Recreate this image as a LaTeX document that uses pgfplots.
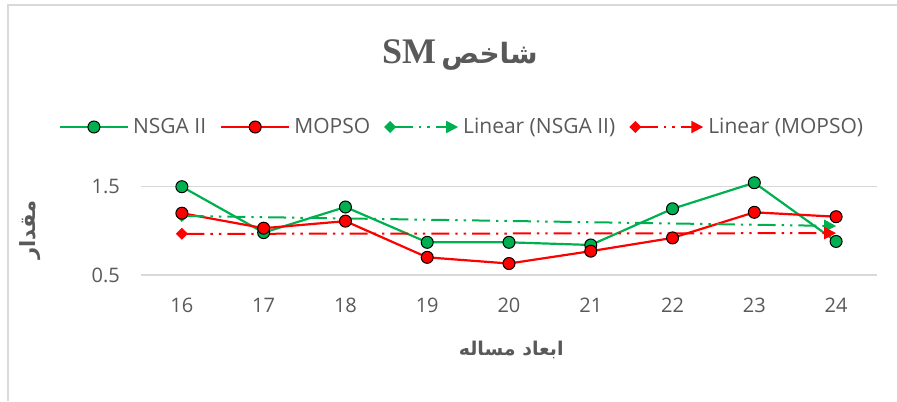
\documentclass[border=0pt]{standalone}
\usepackage{fontspec}
\usepackage{pgfplots}
\pgfplotsset{compat=1.18}
\usetikzlibrary{arrows.meta}
\setmainfont{Open Sans}
\newfontfamily\arabicfont[Script=Arabic]{DejaVu Sans}
\newfontfamily\serifbold{Liberation Serif}
\TeXXeTstate=1
\definecolor{grn}{HTML}{00B050}
\definecolor{rd}{HTML}{FF0000}
\definecolor{txt}{HTML}{595959}
\definecolor{gridc}{HTML}{D9D9D9}
\pgfplotsset{
    markleg/.style={legend image code/.code={%
        \draw[##1] (0pt,0pt) -- (34pt,0pt);
        \draw[##1] plot coordinates {(17pt,0pt)};}},
    trendleg/.style={legend image code/.code={%
        \draw[##1] (0pt,0pt) -- (34pt,0pt);}},
}
\begin{document}
\begin{tikzpicture}
\useasboundingbox (0,0) rectangle (448.5pt,200.5pt);
\draw[gridc, line width=0.8pt] (4pt,0) -- (4pt,198pt) -- (448.5pt,198pt);
\begin{axis}[
    at={(70.5pt,63pt)}, anchor=south west,
    scale only axis, width=368pt, height=44.15pt,
    xmin=15.5, xmax=24.5, ymin=0.5, ymax=1.5,
    xtick={16,...,24}, ytick={0.5,1.5},
    clip=false,
    axis line style={draw=none},
    major tick style={draw=none},
    ymajorgrids=true,
    grid style={gridc, line width=0.75pt},
    /pgf/number format/assume math mode=true,
    /pgf/number format/fixed,
    /pgf/number format/precision=1,
    ticklabel style={font=\fontsize{10}{12}\selectfont, text=txt},
    yticklabel style={xshift=-7pt},
    xticklabel style={yshift=-8pt},
    legend columns=4,
    legend style={draw=none, fill=none, at={(0.4375,1.676)}, anchor=center,
        font=\fontsize{10.5}{12}\selectfont, text=txt,
        /tikz/every even column/.append style={column sep=5pt}},
    legend cell align=left,
]
\addplot[grn, line width=1.1pt, mark=*, mark size=3pt,
    mark options={fill=grn, draw=black, line width=0.5pt}, markleg]
    coordinates {(16,1.50) (17,0.98) (18,1.27) (19,0.87) (20,0.87) (21,0.84) (22,1.25) (23,1.545) (24,0.88)};
\addlegendentry{NSGA II}
\addplot[rd, line width=1.1pt, mark=*, mark size=3pt,
    mark options={fill=rd, draw=black, line width=0.5pt}, markleg]
    coordinates {(16,1.20) (17,1.03) (18,1.11) (19,0.70) (20,0.63) (21,0.77) (22,0.92) (23,1.21) (24,1.16)};
\addlegendentry{MOPSO}
\addplot[grn, line width=1pt, {Diamond[length=6pt,width=6pt]}-{Triangle[length=6pt,width=6pt]},
    shorten <=-3pt,
    dash pattern=on 9pt off 3pt on 1.2pt off 3pt on 1.2pt off 3pt, trendleg]
    coordinates {(16,1.169) (24,1.055)};
\addlegendentry{Linear (NSGA II)}
\addplot[rd, line width=1pt, {Diamond[length=6pt,width=6pt]}-{Triangle[length=6pt,width=6pt]},
    shorten <=-3pt,
    dash pattern=on 9pt off 3pt on 1.2pt off 3pt on 1.2pt off 3pt, trendleg]
    coordinates {(16,0.966) (24,0.974)};
\addlegendentry{Linear (MOPSO)}
\node[text=txt] at (axis description cs:0.4334,2.49)
    {{\fontsize{18}{20}\selectfont\serifbold\bfseries SM} {\fontsize{14}{18}\selectfont\arabicfont\bfseries\beginR شاخص\endR}};
\node[text=txt, font=\fontsize{10.5}{12}\selectfont, rotate=90] at (axis description cs:-0.1508,0.51)
    {\arabicfont\bfseries\beginR مقدار\endR};
\node[text=txt, font=\fontsize{9.5}{12}\selectfont] at (axis description cs:0.503,-0.849)
    {\arabicfont\bfseries\beginR ابعاد مساله\endR};
\end{axis}
\end{tikzpicture}
\end{document}
